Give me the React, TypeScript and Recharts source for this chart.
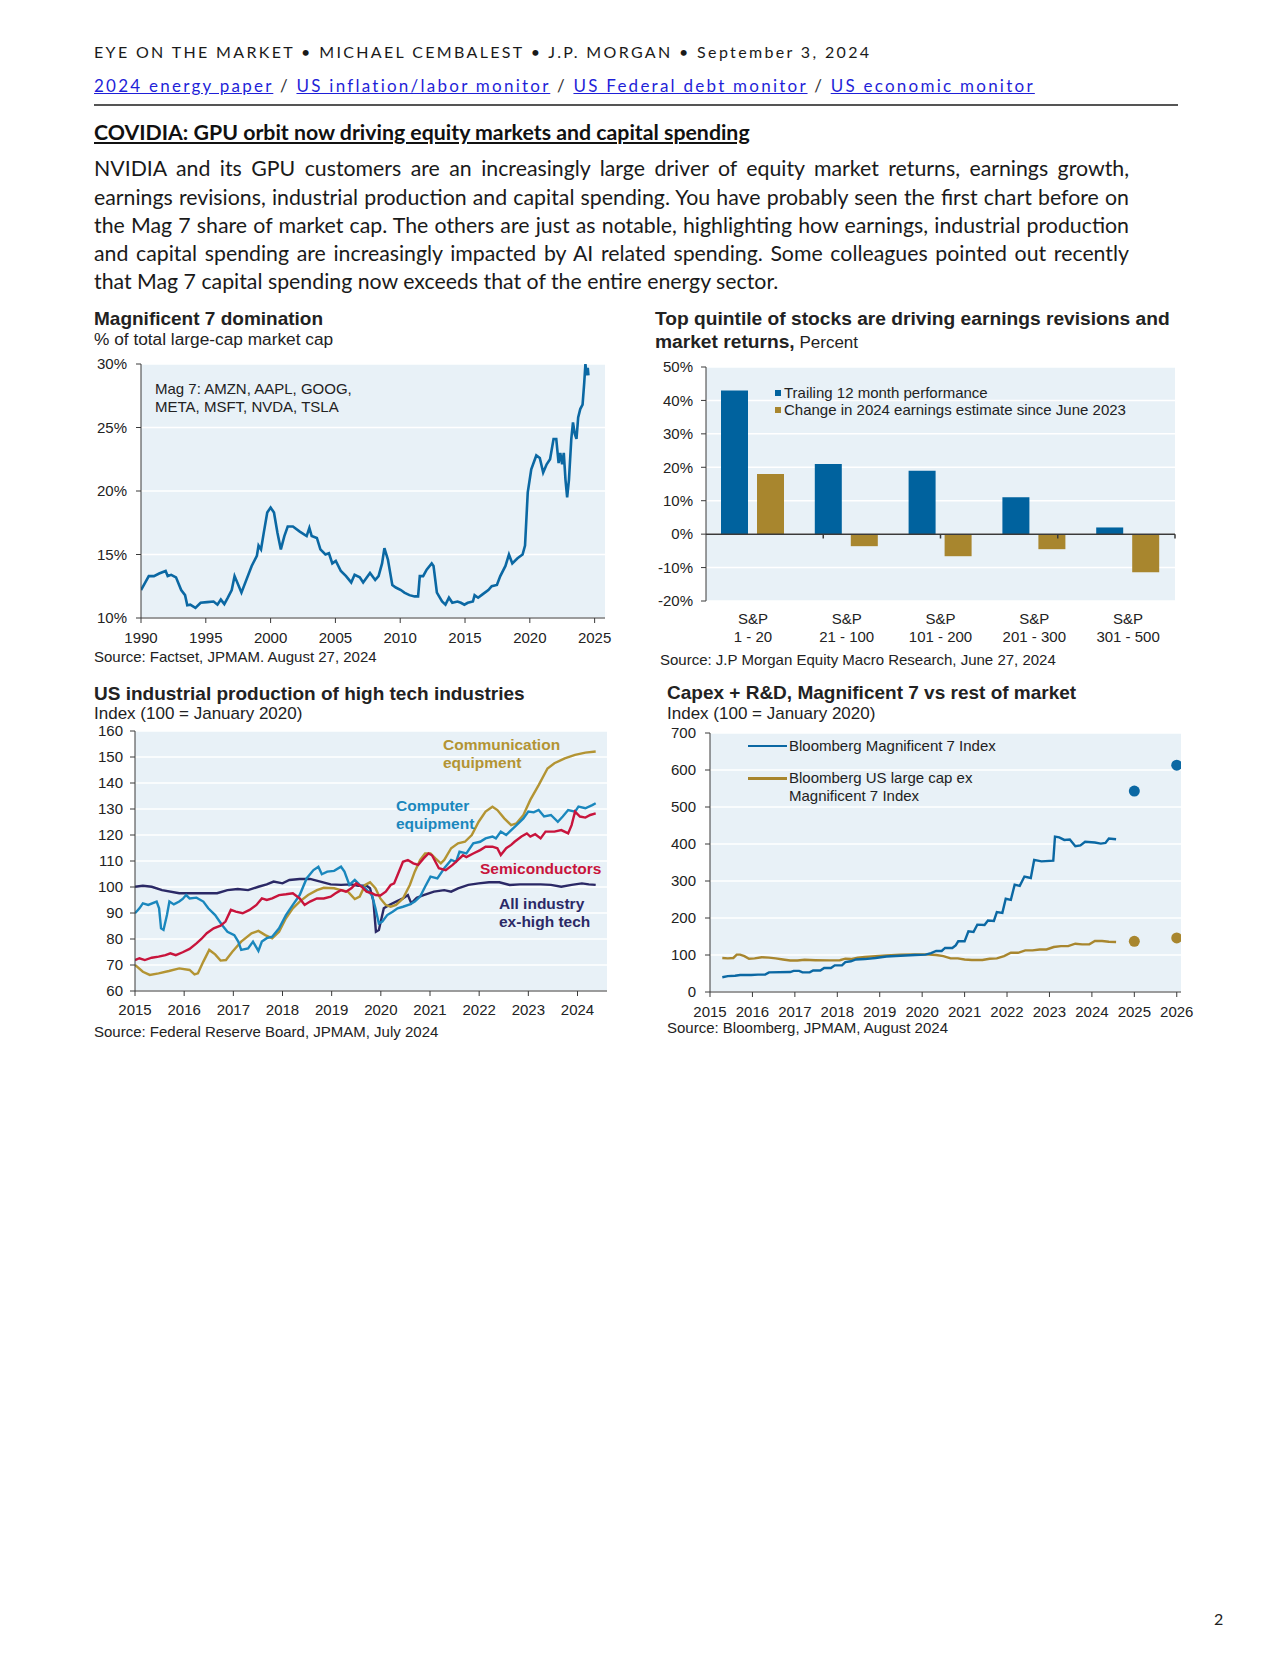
import React from 'react';
import {
  Bar,
  BarChart,
  CartesianGrid,
  ComposedChart,
  Line,
  LineChart,
  ReferenceLine,
  Scatter,
  XAxis,
  YAxis,
} from 'recharts';

// ---- chart 1: Mag 7 share of large-cap market cap (year, %)
const mag7Share: [number, number][] = [
  [1990.0, 12.2], [1990.6, 13.3], [1991.0, 13.3], [1991.4, 13.5], [1991.9, 13.7], [1992.06, 13.3],
  [1992.33, 13.4], [1992.7, 13.2], [1993.1, 12.2], [1993.4, 11.8], [1993.57, 11.0], [1993.8, 11.05],
  [1994.2, 10.8], [1994.6, 11.2], [1995.1, 11.25], [1995.6, 11.3], [1995.9, 11.05], [1996.16, 11.45],
  [1996.43, 11.1], [1996.7, 11.6], [1997.0, 12.2], [1997.22, 13.3], [1997.75, 12.0], [1998.54, 14.1],
  [1998.94, 14.9], [1999.07, 15.7], [1999.26, 15.4], [1999.47, 16.7], [1999.74, 18.3], [2000.0, 18.7],
  [2000.26, 18.3], [2000.53, 16.7], [2000.79, 15.4], [2001.06, 16.45], [2001.32, 17.2], [2001.72, 17.2],
  [2002.25, 16.8], [2002.78, 16.45], [2002.99, 17.1], [2003.17, 16.45], [2003.57, 16.3], [2003.84, 15.4],
  [2004.23, 15.0], [2004.5, 15.1], [2004.76, 14.3], [2005.03, 14.5], [2005.42, 13.7], [2005.82, 13.3],
  [2006.22, 12.8], [2006.48, 13.4], [2006.88, 13.2], [2007.14, 12.8], [2007.67, 13.55], [2008.07, 13.0],
  [2008.33, 13.3], [2008.6, 14.3], [2008.78, 15.5], [2009.05, 14.6], [2009.39, 12.6], [2009.66, 12.4],
  [2010.05, 12.2], [2010.32, 12.0], [2010.71, 11.8], [2011.11, 11.7], [2011.38, 11.7], [2011.51, 13.3],
  [2011.77, 13.3], [2012.04, 13.8], [2012.43, 14.3], [2012.57, 14.1], [2012.83, 12.0], [2013.23, 11.3],
  [2013.49, 11.05], [2013.76, 11.6], [2014.02, 11.2], [2014.42, 11.3], [2014.68, 11.2], [2014.95, 11.05],
  [2015.21, 11.2], [2015.61, 11.3], [2015.74, 11.8], [2016.01, 11.6], [2016.27, 11.8], [2016.53, 12.0],
  [2016.8, 12.2], [2017.06, 12.5], [2017.46, 12.6], [2017.72, 13.3], [2018.12, 14.1], [2018.39, 15.0],
  [2018.65, 14.3], [2019.05, 14.7], [2019.44, 15.0], [2019.63, 15.7], [2019.84, 19.9], [2020.11, 21.7],
  [2020.5, 22.8], [2020.77, 22.6], [2021.03, 21.45], [2021.3, 22.1], [2021.56, 22.5], [2021.83, 24.1],
  [2022.04, 24.1], [2022.22, 22.2], [2022.35, 23.0], [2022.49, 22.1], [2022.62, 23.0], [2022.75, 20.9],
  [2022.88, 19.5], [2023.02, 20.9], [2023.2, 24.1], [2023.33, 25.4], [2023.47, 24.5], [2023.6, 24.1],
  [2023.73, 25.8], [2023.89, 26.45], [2024.07, 26.8], [2024.2, 28.55], [2024.29, 30.0], [2024.39, 29.1],
  [2024.47, 29.7], [2024.52, 29.1],
];
const mag7Ticks = [1990, 1995, 2000, 2005, 2010, 2015, 2020, 2025];
const shareTicks = [10, 15, 20, 25, 30];

// ---- chart 2: S&P quintiles
const quintiles = ['S&P\n1 - 20', 'S&P\n21 - 100', 'S&P\n101 - 200', 'S&P\n201 - 300', 'S&P\n301 - 500'];
const trailing12m = [43, 21, 19, 11, 2];
const epsChange = [18, -3.6, -6.6, -4.5, -11.4];
const pctTicks = [-20, -10, 0, 10, 20, 30, 40, 50];
const quintileEdges = [1, 2, 3, 4, 5];

// ---- chart 3: industrial production, index Jan 2020 = 100
const ipComm: [number, number][] = [
  [2015.0, 70.0], [2015.16, 67.4], [2015.3, 66.2], [2015.48, 66.8], [2015.69, 67.7], [2015.9, 68.7],
  [2016.11, 68.1], [2016.21, 66.4], [2016.28, 66.8], [2016.39, 71.3], [2016.51, 75.8], [2016.63, 74.1],
  [2016.74, 71.7], [2016.85, 71.9], [2016.98, 75.1], [2017.16, 79.0], [2017.37, 82.2], [2017.51, 83.1],
  [2017.65, 81.5], [2017.79, 80.3], [2017.93, 82.8], [2018.07, 88.0], [2018.21, 91.8], [2018.35, 94.4],
  [2018.52, 96.9], [2018.7, 98.8], [2018.84, 99.7], [2019.05, 99.5], [2019.19, 98.8], [2019.33, 98.2],
  [2019.47, 95.4], [2019.57, 96.3], [2019.68, 100.8], [2019.78, 101.8], [2019.89, 99.5], [2019.99, 95.6],
  [2020.1, 93.1], [2020.2, 92.4], [2020.31, 93.1], [2020.45, 95.6], [2020.59, 100.8], [2020.69, 105.9],
  [2020.8, 110.4], [2020.9, 112.9], [2021.01, 112.9], [2021.11, 111.0], [2021.22, 109.1], [2021.29, 110.4],
  [2021.43, 114.9], [2021.57, 116.8], [2021.71, 117.4], [2021.85, 120.0], [2021.99, 125.1], [2022.13, 129.0],
  [2022.27, 130.9], [2022.37, 129.6], [2022.51, 126.4], [2022.65, 123.8], [2022.76, 124.5], [2022.9, 127.7],
  [2023.04, 133.5], [2023.21, 139.2], [2023.39, 145.6], [2023.53, 147.6], [2023.74, 149.5], [2023.95, 150.8],
  [2024.16, 151.7], [2024.37, 152.1],
];
const ipComputer: [number, number][] = [
  [2015.0, 89.9], [2015.09, 91.8], [2015.16, 93.7], [2015.27, 93.1], [2015.44, 94.4], [2015.49, 91.8],
  [2015.53, 84.1], [2015.58, 83.5], [2015.65, 89.2], [2015.7, 94.4], [2015.79, 93.3], [2015.9, 94.4],
  [2015.97, 95.4], [2016.04, 96.9], [2016.11, 95.6], [2016.25, 95.9], [2016.39, 94.4], [2016.49, 91.8],
  [2016.63, 89.2], [2016.77, 85.4], [2016.88, 82.8], [2017.02, 81.5], [2017.1, 79.0], [2017.16, 75.8],
  [2017.3, 76.4], [2017.4, 79.0], [2017.51, 75.4], [2017.58, 79.0], [2017.68, 80.3], [2017.79, 80.9],
  [2017.93, 84.1], [2018.07, 89.2], [2018.21, 93.1], [2018.35, 96.9], [2018.49, 103.3], [2018.63, 106.5],
  [2018.73, 107.8], [2018.8, 104.9], [2018.91, 105.9], [2019.05, 106.2], [2019.19, 107.8], [2019.26, 105.9],
  [2019.36, 100.8], [2019.47, 102.7], [2019.57, 100.8], [2019.68, 99.5], [2019.82, 96.9], [2019.89, 91.8],
  [2019.96, 86.0], [2020.03, 86.7], [2020.13, 89.2], [2020.24, 90.5], [2020.34, 91.8], [2020.45, 92.4],
  [2020.59, 93.3], [2020.69, 94.4], [2020.8, 96.3], [2020.9, 100.1], [2021.01, 104.0], [2021.15, 103.3],
  [2021.29, 107.2], [2021.43, 110.4], [2021.53, 109.7], [2021.6, 113.6], [2021.74, 112.9], [2021.88, 116.8],
  [2022.02, 117.4], [2022.13, 118.7], [2022.27, 119.4], [2022.34, 118.7], [2022.44, 121.3], [2022.55, 120.0],
  [2022.62, 121.3], [2022.76, 123.8], [2022.9, 126.4], [2023.0, 129.0], [2023.11, 128.7], [2023.21, 129.6],
  [2023.32, 127.1], [2023.46, 127.7], [2023.6, 125.1], [2023.7, 127.1], [2023.81, 129.6], [2023.95, 129.0],
  [2024.02, 130.9], [2024.16, 130.3], [2024.3, 131.5], [2024.37, 132.2],
];
const ipSemis: [number, number][] = [
  [2015.0, 71.9], [2015.09, 72.6], [2015.2, 71.9], [2015.34, 72.8], [2015.48, 73.2], [2015.62, 73.8],
  [2015.72, 74.5], [2015.83, 73.8], [2015.97, 74.9], [2016.11, 76.2], [2016.25, 78.3], [2016.35, 80.0],
  [2016.46, 82.2], [2016.6, 84.1], [2016.74, 85.1], [2016.84, 86.7], [2016.95, 91.2], [2017.05, 90.5],
  [2017.19, 89.9], [2017.33, 91.2], [2017.47, 93.1], [2017.58, 95.6], [2017.68, 95.0], [2017.79, 95.6],
  [2017.93, 96.9], [2018.07, 97.2], [2018.21, 97.6], [2018.35, 95.6], [2018.45, 93.1], [2018.56, 94.4],
  [2018.7, 95.6], [2018.84, 95.6], [2018.98, 96.3], [2019.08, 97.6], [2019.19, 98.8], [2019.29, 98.2],
  [2019.4, 99.5], [2019.5, 101.4], [2019.61, 100.1], [2019.71, 98.2], [2019.82, 97.6], [2019.89, 96.9],
  [2019.99, 96.7], [2020.1, 98.2], [2020.2, 100.8], [2020.27, 101.4], [2020.34, 104.6], [2020.45, 109.7],
  [2020.55, 110.4], [2020.66, 109.1], [2020.76, 108.5], [2020.87, 111.0], [2020.97, 112.9], [2021.04, 112.2],
  [2021.11, 109.7], [2021.18, 107.2], [2021.32, 106.5], [2021.46, 108.5], [2021.57, 110.4], [2021.67, 112.2],
  [2021.74, 111.5], [2021.88, 112.9], [2022.02, 114.2], [2022.13, 115.5], [2022.27, 115.5], [2022.37, 114.9],
  [2022.44, 112.3], [2022.55, 114.9], [2022.65, 116.2], [2022.72, 117.4], [2022.86, 119.4], [2022.97, 120.6],
  [2023.04, 119.4], [2023.14, 120.3], [2023.25, 118.7], [2023.35, 121.3], [2023.53, 121.3], [2023.67, 121.9],
  [2023.81, 120.6], [2023.88, 123.8], [2023.95, 129.0], [2024.05, 127.1], [2024.16, 126.7], [2024.26, 127.7],
  [2024.37, 128.3],
];
const ipAllExTech: [number, number][] = [
  [2015.0, 100.1], [2015.16, 100.5], [2015.34, 100.1], [2015.55, 98.8], [2015.9, 97.6], [2016.32, 97.6],
  [2016.67, 97.6], [2016.88, 98.8], [2017.09, 99.2], [2017.3, 98.8], [2017.51, 100.1], [2017.68, 101.0],
  [2017.82, 102.1], [2018.0, 101.4], [2018.14, 102.7], [2018.35, 103.1], [2018.56, 103.1], [2018.77, 102.1],
  [2018.98, 101.0], [2019.19, 100.8], [2019.4, 101.0], [2019.54, 100.5], [2019.71, 100.5], [2019.78, 99.5],
  [2019.85, 94.4], [2019.9, 82.8], [2019.96, 83.5], [2020.06, 91.8], [2020.17, 93.1], [2020.31, 94.4],
  [2020.45, 95.6], [2020.55, 96.9], [2020.62, 93.7], [2020.73, 95.9], [2020.87, 96.9], [2021.08, 98.2],
  [2021.29, 98.8], [2021.43, 98.2], [2021.57, 99.5], [2021.78, 100.8], [2021.99, 101.4], [2022.2, 101.8],
  [2022.41, 101.8], [2022.62, 100.8], [2022.83, 101.0], [2023.04, 101.0], [2023.25, 101.0], [2023.46, 100.8],
  [2023.67, 100.1], [2023.88, 100.8], [2024.09, 101.4], [2024.23, 101.0], [2024.37, 100.8],
];
const ipYearTicks = [2015, 2016, 2017, 2018, 2019, 2020, 2021, 2022, 2023, 2024];
const ipTicks = [60, 70, 80, 90, 100, 110, 120, 130, 140, 150, 160];

// ---- chart 4: capex + R&D, index Jan 2020 = 100
const capexMag7: [number, number][] = [
  [2015.29, 40], [2015.42, 43], [2015.59, 44], [2015.71, 46], [2015.97, 46], [2016.13, 47], [2016.3, 47],
  [2016.39, 53], [2016.89, 54], [2016.97, 57], [2017.1, 57], [2017.18, 53], [2017.35, 53], [2017.43, 58],
  [2017.6, 58], [2017.69, 65], [2017.85, 65], [2017.94, 72], [2018.11, 72], [2018.19, 81], [2018.32, 83],
  [2018.44, 88], [2018.65, 89], [2018.9, 92], [2019.16, 96], [2019.49, 98], [2019.83, 100], [2020.08, 101],
  [2020.21, 105], [2020.33, 111], [2020.46, 111], [2020.54, 119], [2020.71, 119], [2020.79, 126],
  [2020.85, 137], [2021.0, 137], [2021.09, 164], [2021.21, 162], [2021.3, 182], [2021.47, 181],
  [2021.55, 193], [2021.69, 192], [2021.76, 216], [2021.89, 214], [2021.97, 252], [2022.09, 249],
  [2022.18, 290], [2022.3, 287], [2022.41, 312], [2022.56, 308], [2022.64, 357], [2022.81, 353],
  [2023.09, 355], [2023.13, 420], [2023.23, 418], [2023.35, 411], [2023.48, 412], [2023.61, 394],
  [2023.73, 396], [2023.84, 406], [2024.07, 404], [2024.21, 401], [2024.32, 403], [2024.4, 415],
  [2024.57, 413],
];
const capexExMag7: [number, number][] = [
  [2015.29, 92], [2015.42, 91], [2015.55, 92], [2015.63, 101], [2015.71, 101], [2015.81, 97], [2015.92, 90],
  [2016.05, 91], [2016.22, 94], [2016.39, 93], [2016.55, 91], [2016.72, 88], [2016.89, 85], [2017.06, 85],
  [2017.23, 87], [2017.48, 86], [2017.81, 85.5], [2018.06, 86], [2018.19, 90], [2018.32, 89], [2018.48, 92.7],
  [2018.65, 94.5], [2018.9, 97], [2019.16, 99], [2019.49, 101], [2019.83, 101.7], [2020.08, 101.7],
  [2020.33, 100], [2020.5, 97], [2020.67, 91], [2020.84, 91], [2021.0, 88], [2021.17, 86.4], [2021.42, 86.4],
  [2021.59, 90], [2021.76, 91], [2021.93, 97], [2022.09, 106], [2022.26, 106], [2022.43, 112.5],
  [2022.6, 112.5], [2022.77, 115], [2022.93, 115], [2023.1, 121.5], [2023.27, 124], [2023.44, 124],
  [2023.61, 130.5], [2023.77, 128.7], [2023.94, 128.7], [2024.07, 137.7], [2024.24, 137.7], [2024.4, 136],
  [2024.57, 135],
];
const capexMag7Est: [number, number][] = [[2025, 543], [2026, 613]];
const capexExMag7Est: [number, number][] = [[2025, 137], [2026, 146]];
const capexYearTicks = [2015, 2016, 2017, 2018, 2019, 2020, 2021, 2022, 2023, 2024, 2025, 2026];
const capexTicks = [0, 100, 200, 300, 400, 500, 600, 700];

const paragraph = [
  'NVIDIA and its GPU customers are an increasingly large driver of equity market returns, earnings growth,',
  'earnings revisions, industrial production and capital spending.  You have probably seen the first chart before on',
  'the Mag 7 share of market cap.  The others are just as notable, highlighting how earnings, industrial production',
  'and capital spending are increasingly impacted by AI related spending.  Some colleagues pointed out recently',
  'that Mag 7 capital spending now exceeds that of the entire energy sector.',
];
const links = ['2024 energy paper', 'US inflation/labor monitor', 'US Federal debt monitor', 'US economic monitor'];

const pts = (arr: [number, number][]) => arr.map(([x, v]) => ({ x, v }));

const ARIAL = '"Liberation Sans", Arial, sans-serif';
const PAGE_FONT = 'Lato, "Open Sans", sans-serif';
const BG = '#e8f1f7';
const INK = '#222';
const AXIS = '#3a3a3a';
const BLUE = '#0b68a3';
const BAR_BLUE = '#00629e';
const GOLD = '#a8862e';
const COMM = '#b39433';
const COMPUTER = '#1a87bd';
const SEMI = '#c8143c';
const NAVY = '#2b2966';

const tick = { fill: INK, fontSize: 15, fontFamily: ARIAL };

function Txt({ x, y, size, children, color = INK, bold = false, font = ARIAL, lh, style }: any) {
  const h = lh ?? Math.round(size * 1.2);
  return (
    <div
      style={{
        position: 'absolute',
        left: x,
        top: y - h / 2,
        fontSize: size,
        lineHeight: `${h}px`,
        fontFamily: font,
        fontWeight: bold ? 700 : 400,
        color,
        whiteSpace: 'pre',
        ...style,
      }}
    >
      {children}
    </div>
  );
}

function QuintileTick({ x, y, payload }: any) {
  const [top, bottom] = String(payload.value).split('\n');
  return (
    <text x={x} y={y} textAnchor="middle" fontSize={15} fontFamily={ARIAL} fill={INK}>
      <tspan x={x} dy={23}>{top}</tspan>
      <tspan x={x} dy={18}>{bottom}</tspan>
    </text>
  );
}

function Dot(color: string) {
  return (p: any) => <circle cx={p.cx} cy={p.cy} r={5.5} fill={color} />;
}

function Mag7Chart() {
  return (
    <div style={{ position: 'absolute', left: 80, top: 354 }}>
      <LineChart width={545} height={294} margin={{ top: 10, right: 20, bottom: 0, left: 0 }}>
        <CartesianGrid vertical={false} stroke="#fff" strokeWidth={1.5} fill={BG} />
        <XAxis
          dataKey="x"
          type="number"
          domain={[1990, 2025.8]}
          ticks={mag7Ticks}
          interval={0}
          allowDataOverflow
          height={30}
          tick={tick}
          tickSize={5}
          tickMargin={9}
          axisLine={{ stroke: AXIS }}
          tickLine={{ stroke: AXIS }}
        />
        <YAxis
          type="number"
          domain={[10, 30]}
          ticks={shareTicks}
          interval={0}
          allowDataOverflow
          width={61}
          tick={tick}
          tickSize={5}
          tickMargin={9}
          tickFormatter={(v) => `${v}%`}
          axisLine={{ stroke: AXIS }}
          tickLine={{ stroke: AXIS }}
        />
        <Line
          data={pts(mag7Share)}
          dataKey="v"
          type="linear"
          stroke={BLUE}
          strokeWidth={2.6}
          dot={false}
          isAnimationActive={false}
        />
      </LineChart>
    </div>
  );
}

function QuintileChart() {
  const data = quintiles.map((q, i) => ({ q, trailing: trailing12m[i], eps: epsChange[i] }));
  return (
    <div style={{ position: 'absolute', left: 640, top: 357 }}>
      <BarChart
        width={555}
        height={289}
        data={data}
        barGap={9}
        margin={{ top: 10, right: 20, bottom: 0, left: 0 }}
      >
        <CartesianGrid vertical={false} stroke="#fff" strokeWidth={1.5} fill={BG} />
        <XAxis
          dataKey="q"
          height={45}
          tick={<QuintileTick />}
          tickSize={0}
          tickMargin={0}
          axisLine={false}
          tickLine={false}
          interval={0}
        />
        <XAxis xAxisId="edges" type="number" domain={[0, 5]} hide />
        <YAxis
          type="number"
          domain={[-20, 50]}
          ticks={pctTicks}
          interval={0}
          width={66}
          tick={tick}
          tickSize={5}
          tickMargin={8}
          tickFormatter={(v) => `${v}%`}
          axisLine={{ stroke: AXIS }}
          tickLine={{ stroke: AXIS }}
        />
        <Bar dataKey="trailing" fill={BAR_BLUE} barSize={27} isAnimationActive={false} />
        <Bar dataKey="eps" fill={GOLD} barSize={27} isAnimationActive={false} />
        <ReferenceLine y={0} stroke={AXIS} strokeWidth={1.5} />
        {quintileEdges.map((e) => (
          <ReferenceLine
            key={e}
            xAxisId="edges"
            segment={[{ x: e, y: 0 }, { x: e, y: -1.3 }]}
            stroke={AXIS}
            strokeWidth={1.5}
          />
        ))}
      </BarChart>
    </div>
  );
}

function IndustrialChart() {
  const series: [[number, number][], string][] = [
    [ipAllExTech, NAVY],
    [ipComm, COMM],
    [ipComputer, COMPUTER],
    [ipSemis, SEMI],
  ];
  return (
    <div style={{ position: 'absolute', left: 80, top: 721 }}>
      <LineChart width={547} height={300} margin={{ top: 10, right: 20, bottom: 0, left: 0 }}>
        <CartesianGrid vertical={false} stroke="#fff" strokeWidth={1.5} fill={BG} />
        <XAxis
          dataKey="x"
          type="number"
          domain={[2015, 2024.6]}
          ticks={ipYearTicks}
          interval={0}
          allowDataOverflow
          height={30}
          tick={tick}
          tickSize={5}
          tickMargin={8}
          axisLine={{ stroke: AXIS }}
          tickLine={{ stroke: AXIS }}
        />
        <YAxis
          type="number"
          domain={[60, 160]}
          ticks={ipTicks}
          interval={0}
          width={55}
          tick={tick}
          tickSize={5}
          tickMargin={7}
          axisLine={{ stroke: AXIS }}
          tickLine={{ stroke: AXIS }}
        />
        {series.map(([s, color], i) => (
          <Line
            key={i}
            data={pts(s)}
            dataKey="v"
            type="linear"
            stroke={color}
            strokeWidth={2.4}
            dot={false}
            isAnimationActive={false}
          />
        ))}
      </LineChart>
    </div>
  );
}

function CapexChart() {
  return (
    <div style={{ position: 'absolute', left: 650, top: 723 }}>
      <ComposedChart width={556} height={299} margin={{ top: 10, right: 25, bottom: 0, left: 0 }}>
        <CartesianGrid vertical={false} stroke="#fff" strokeWidth={1.5} fill={BG} />
        <XAxis
          dataKey="x"
          type="number"
          domain={[2015, 2026.1]}
          ticks={capexYearTicks}
          interval={0}
          allowDataOverflow
          height={30}
          tick={tick}
          tickSize={5}
          tickMargin={9}
          axisLine={{ stroke: AXIS }}
          tickLine={{ stroke: AXIS }}
        />
        <YAxis
          type="number"
          domain={[0, 700]}
          ticks={capexTicks}
          interval={0}
          width={60}
          tick={tick}
          tickSize={5}
          tickMargin={9}
          axisLine={{ stroke: AXIS }}
          tickLine={{ stroke: AXIS }}
        />
        <Line data={pts(capexExMag7)} dataKey="v" type="linear" stroke={GOLD} strokeWidth={2.4} dot={false} isAnimationActive={false} />
        <Line data={pts(capexMag7)} dataKey="v" type="linear" stroke={BLUE} strokeWidth={2.4} dot={false} isAnimationActive={false} />
        <Scatter data={pts(capexMag7Est)} dataKey="v" fill={BLUE} shape={Dot(BLUE)} isAnimationActive={false} />
        <Scatter data={pts(capexExMag7Est)} dataKey="v" fill={GOLD} shape={Dot(GOLD)} isAnimationActive={false} />
      </ComposedChart>
    </div>
  );
}

export default function App() {
  return (
    <div style={{ position: 'absolute', left: 0, top: 0, width: 1280, height: 1656, background: '#fff' }}>
      {/* page header */}
      <Txt x={94} y={51} size={16} font={PAGE_FONT} style={{ letterSpacing: 2.35, color: '#1a1a1a' }}>
        {'EYE ON THE MARKET • MICHAEL CEMBALEST • J.P. MORGAN • September 3, 2024'}
      </Txt>
      <Txt x={94} y={86} size={17} font={PAGE_FONT} style={{ letterSpacing: 2.25 }}>
        {links.map((l, i) => (
          <React.Fragment key={l}>
            {i > 0 && <span style={{ color: '#333' }}>{' / '}</span>}
            <span style={{ color: '#1f1fd8', textDecoration: 'underline' }}>{l}</span>
          </React.Fragment>
        ))}
      </Txt>
      <div style={{ position: 'absolute', left: 94, top: 104, width: 1084, height: 2, background: '#555' }} />
      <Txt x={94} y={132} size={21.3} bold font={PAGE_FONT} style={{ textDecoration: 'underline', color: '#111' }}>
        COVIDIA: GPU orbit now driving equity markets and capital spending
      </Txt>
      {paragraph.map((line, i) => (
        <div
          key={i}
          style={{
            position: 'absolute',
            left: 94,
            top: [168, 196.5, 225, 252.5, 281][i] - 14,
            width: 1035,
            fontFamily: PAGE_FONT,
            fontSize: 21.3,
            lineHeight: '28px',
            color: '#1a1a1a',
            textAlign: i < 4 ? 'justify' : 'left',
            textAlignLast: i < 4 ? 'justify' : 'left',
            whiteSpace: 'nowrap',
          }}
        >
          {line}
        </div>
      ))}

      {/* chart 1 */}
      <Txt x={94} y={318} size={19} bold>Magnificent 7 domination</Txt>
      <Txt x={94} y={339} size={17.3}>% of total large-cap market cap</Txt>
      <Mag7Chart />
      <Txt x={155} y={389} size={15}>Mag 7: AMZN, AAPL, GOOG,</Txt>
      <Txt x={155} y={407} size={15}>META, MSFT, NVDA, TSLA</Txt>
      <Txt x={94} y={657} size={15}>Source: Factset, JPMAM. August 27, 2024</Txt>

      {/* chart 2 */}
      <Txt x={655} y={318} size={19.2} bold>Top quintile of stocks are driving earnings revisions and</Txt>
      <Txt x={655} y={341} size={19.2} bold>
        market returns,<span style={{ fontWeight: 400, fontSize: 17 }}> Percent</span>
      </Txt>
      <QuintileChart />
      <div style={{ position: 'absolute', left: 775, top: 390, width: 6, height: 6, background: BAR_BLUE }} />
      <Txt x={784} y={393} size={15}>Trailing 12 month performance</Txt>
      <div style={{ position: 'absolute', left: 775, top: 407, width: 6, height: 6, background: GOLD }} />
      <Txt x={784} y={410} size={15}>Change in 2024 earnings estimate since June 2023</Txt>
      <Txt x={660} y={660} size={15}>Source: J.P Morgan Equity Macro Research, June 27, 2024</Txt>

      {/* chart 3 */}
      <Txt x={94} y={693} size={19} bold>US industrial production of high tech industries</Txt>
      <Txt x={94} y={714} size={17}>Index (100 = January 2020)</Txt>
      <IndustrialChart />
      <Txt x={443} y={744} size={15.5} bold color={COMM}>Communication</Txt>
      <Txt x={443} y={762} size={15.5} bold color={COMM}>equipment</Txt>
      <Txt x={396} y={805} size={15.5} bold color={COMPUTER}>Computer</Txt>
      <Txt x={396} y={823} size={15.5} bold color={COMPUTER}>equipment</Txt>
      <Txt x={480} y={868} size={15.5} bold color={SEMI}>Semiconductors</Txt>
      <Txt x={499} y={903} size={15.5} bold color={NAVY}>All industry</Txt>
      <Txt x={499} y={921} size={15.5} bold color={NAVY}>ex-high tech</Txt>
      <Txt x={94} y={1032} size={15}>Source: Federal Reserve Board, JPMAM, July 2024</Txt>

      {/* chart 4 */}
      <Txt x={667} y={692} size={19} bold>Capex + R&amp;D, Magnificent 7 vs rest of market</Txt>
      <Txt x={667} y={714} size={17}>Index (100 = January 2020)</Txt>
      <CapexChart />
      <div style={{ position: 'absolute', left: 748, top: 744.5, width: 39, height: 2.5, background: BLUE }} />
      <Txt x={789} y={746} size={15}>Bloomberg Magnificent 7 Index</Txt>
      <div style={{ position: 'absolute', left: 748, top: 777, width: 39, height: 2.5, background: GOLD }} />
      <Txt x={789} y={778} size={15}>Bloomberg US large cap ex</Txt>
      <Txt x={789} y={796} size={15}>Magnificent 7 Index</Txt>
      <Txt x={667} y={1028} size={15}>Source: Bloomberg, JPMAM, August 2024</Txt>

      <Txt x={1214} y={1618} size={16} font={PAGE_FONT}>2</Txt>
    </div>
  );
}
